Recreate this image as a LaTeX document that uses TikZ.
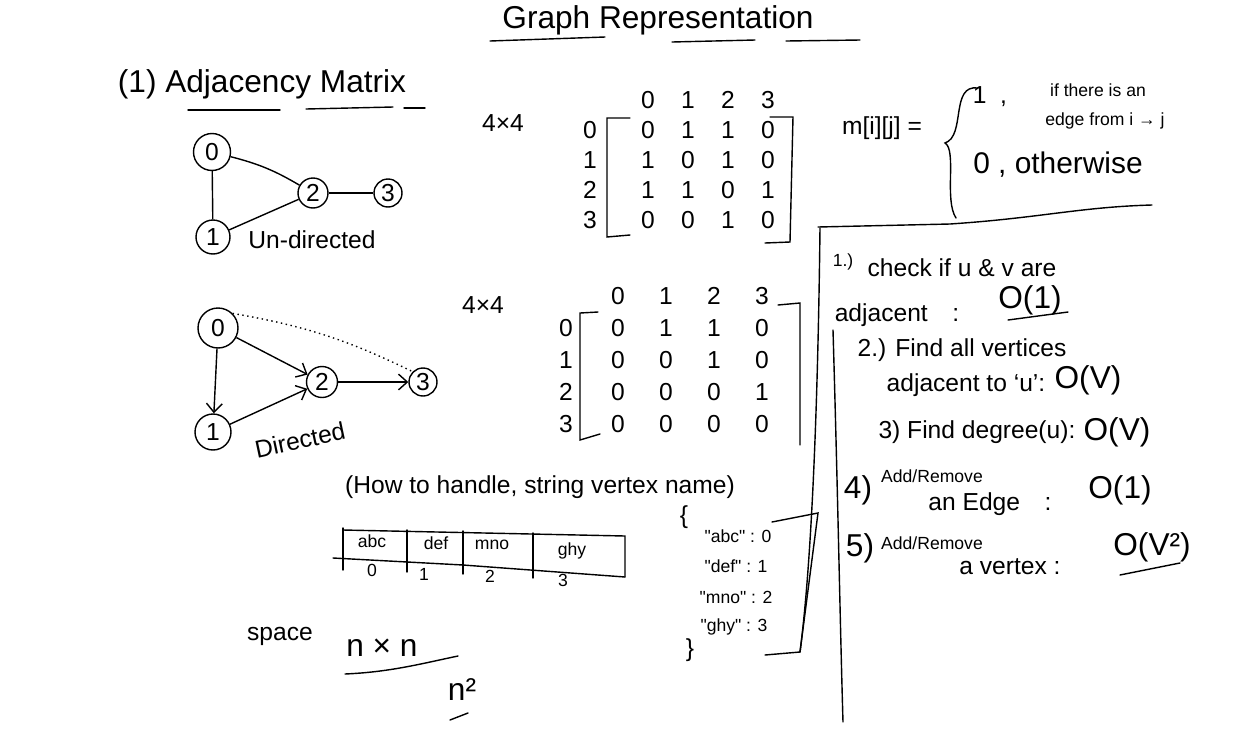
\documentclass[tikz,border=0pt]{standalone}
\usepackage{fontspec}
\setmainfont{Liberation Sans}
\usetikzlibrary{arrows.meta, positioning, matrix}
\tikzset{%
	every vertex/.style={
		circle,
		draw,
		thick,
		inner sep=0pt,
		minimum size=0.68cm
	},
	dir edge/.style={thick, -{Straight Barb[length=5pt, width=9pt]}},
	ink/.style={thick, line cap=round},
	adj matrix/.style={
		matrix of nodes,
		column sep=0pt,
		row sep=0pt,
		nodes={inner sep=0pt, anchor=center}
	},
	big/.style={font=\fontsize{18}{20}\selectfont},
	small/.style={font=\fontsize{10}{12}\selectfont},
}
\newcommand{\qq}[1]{\textquotedbl#1\textquotedbl}
\begin{document}
\begin{tikzpicture}[x=0.02cm, y=-0.02cm, font=\fontsize{14}{16}\selectfont]
	\useasboundingbox (0,0) rectangle (1242,755);
	
	% title
	\node (title) at (658,20) {\fontsize{18}{22}\selectfont Graph Representation};
	\draw[ink] (490,41) -- (605,37);
	\draw[ink] (672,42) -- (755,40);
	\draw[ink] (786,41) -- (860,40);
	
	\node[big] (adj) at (262,84) {(1) Adjacency Matrix};
	\draw[ink] (188,110) -- (280,110);
	\draw[ink] (306,109) -- (393,107);
	\draw[ink] (404,108) -- (425,108);
	
	% undirected graph
	\node[every vertex, minimum size=0.74cm] (U0) at (212,152) {0};
	\node[every vertex] (U1) at (213,237) {1};
	\node[every vertex, minimum size=0.6cm] (U2) at (313,193) {2};
	\node[every vertex, minimum size=0.56cm] (U3) at (388,193) {3};
	\draw[thick] (U0) -- (U1);
	\draw[thick] (U0) to[bend left=8] (U2);
	\draw[thick] (U1) -- (U2);
	\draw[thick] (U2) -- (U3);
	\node (undir) at (312,240) {Un-directed};
	
	% directed graph
	\node[every vertex, minimum size=0.8cm] (D0) at (218,328) {0};
	\node[every vertex, minimum size=0.72cm] (D1) at (213,432) {1};
	\node[every vertex, minimum size=0.62cm] (D2) at (322,382) {2};
	\node[every vertex, minimum size=0.56cm] (D3) at (423,382) {3};
	\draw[dir edge] (D0) -- (D1);
	\draw[dir edge] (D0) -- (D2);
	\draw[dir edge] (D1) -- (D2);
	\draw[dir edge] (D2) -- (D3);
	\draw[thick, dotted] (D0.north east) to[bend left=8] (D3.north west);
	\node[rotate=12] (dir) at (300,440) {Directed};
	
	% matrix of the undirected graph
	\node (size1) at (503,123) {4×4};
	\matrix (M1) [adj matrix, nodes={minimum width=0.8cm, minimum height=0.6cm},
		column 1/.style={nodes={minimum width=1.52cm}}] at (670,160) {
		  & 0 & 1 & 2 & 3 \\
		0 & 0 & 1 & 1 & 0 \\
		1 & 1 & 0 & 1 & 0 \\
		2 & 1 & 1 & 0 & 1 \\
		3 & 0 & 0 & 1 & 0 \\
	};
	\draw[ink] (630,118) -- (607,118) -- (607,237) -- (630,235);
	\draw[ink] (770,117) -- (793,117) -- (790,242) -- (765,243);
	
	% matrix of the directed graph
	\node (size2) at (483,305) {4×4};
	\matrix (M2) [adj matrix, nodes={minimum width=0.96cm, minimum height=0.64cm},
		column 1/.style={nodes={minimum width=1.12cm}}] at (662,360) {
		  & 0 & 1 & 2 & 3 \\
		0 & 0 & 1 & 1 & 0 \\
		1 & 0 & 0 & 1 & 0 \\
		2 & 0 & 0 & 0 & 1 \\
		3 & 0 & 0 & 0 & 0 \\
	};
	\draw[ink] (598,312) -- (580,313) -- (580,440) -- (600,434);
	\draw[ink] (778,305) -- (800,303) -- (800,445);
	
	% definition of m[i][j]
	\node (mdef) at (882,128) {m[i][j] =};
	\draw[ink] (978,88) .. controls (950,84) and (966,136) .. (945,143)
		.. controls (957,150) and (944,200) .. (956,218);
	\node (one) at (990,97) {1\ \ ,};
	\node[small] (case1a) at (1098,90) {if there is an};
	\node[small] (case1b) at (1105,121) {edge from i → j};
	\node (zero) at (1058,165) {\fontsize{17}{20}\selectfont 0 , otherwise};
	
	% operations panel
	\draw[ink] (818,227) -- (950,224) .. controls (1040,218) and (1080,207) .. (1152,205);
	\draw[ink] (820,228) .. controls (818,400) and (812,560) .. (800,652);
	\draw[ink] (833,330) .. controls (838,500) and (840,620) .. (843,722);
	
	\node[small] (op1n) at (843,262) {1.)};
	\node (op1a) at (962,268) {check if u \& v are};
	\node (op1b) at (897,315) {adjacent\quad :};
	\node[big] (op1c) at (1030,300) {O(1)};
	\draw[ink] (1008,320) -- (1068,312);
	
	\node (op2a) at (962,350) {2.) Find all vertices};
	\node (op2b) at (966,385) {adjacent to `u':};
	\node[big] (op2c) at (1088,380) {O(V)};
	
	\node (op3a) at (977,432) {3) Find degree(u):};
	\node[big] (op3b) at (1117,432) {O(V)};
	
	\node[big] (op4n) at (858,490) {4)};
	\node[small, inner sep=1pt] (op4a) at (932,476) {Add/Remove};
	\node[inner sep=1pt] (op4b) at (990,504) {an Edge\quad :};
	\node[big] (op4c) at (1120,490) {O(1)};
	
	\node[big] (op5n) at (860,548) {5)};
	\node[small, inner sep=1pt] (op5a) at (932,543) {Add/Remove};
	\node[inner sep=1pt] (op5b) at (1010,567) {a vertex :};
	\node[big] (op5c) at (1152,547) {O(V²)};
	\draw[ink] (1120,575) -- (1180,563);
	
	% string vertex names
	\node (howto) at (540,487) {(How to handle, string vertex name)};
	\draw[ink] (343,530) -- (625,536) -- (625,577);
	\draw[ink] (333,558) -- (463,565) -- (625,577);
	\draw[ink] (343,528) -- (343,570);
	\draw[ink] (407,530) -- (407,572);
	\draw[ink] (463,531) -- (463,574);
	\draw[ink] (533,533) -- (533,578);
	\node[small] (s0) at (372,541) {abc};
	\node[small] (s1) at (436,543) {def};
	\node[small] (s2) at (492,545) {mno};
	\node[small] (s3) at (572,551) {ghy};
	\node[small] (i0) at (372,570) {0};
	\node[small] (i1) at (424,574) {1};
	\node[small] (i2) at (490,576) {2};
	\node[small] (i3) at (563,580) {3};
	
	\node (lb) at (684,517) {\{};
	\node[small] (k0) at (738,536) {\qq{abc} : 0};
	\node[small] (k1) at (736,566) {\qq{def} : 1};
	\node[small] (k2) at (736,597) {\qq{mno} : 2};
	\node[small] (k3) at (734,627) {\qq{ghy} : 3};
	\node (rb) at (690,650) {\}};
	\draw[ink] (772,522) -- (818,513) -- (800,652) -- (765,655);
	
	% space
	\node (space) at (280,636) {space};
	\node[big] (nxn) at (382,648) {n × n};
	\draw[ink] (345,674) .. controls (390,672) and (420,664) .. (458,656);
	\node[big] (nsq) at (462,690) {n²};
	\draw[ink] (450,720) -- (468,713);
\end{tikzpicture}
\end{document}
